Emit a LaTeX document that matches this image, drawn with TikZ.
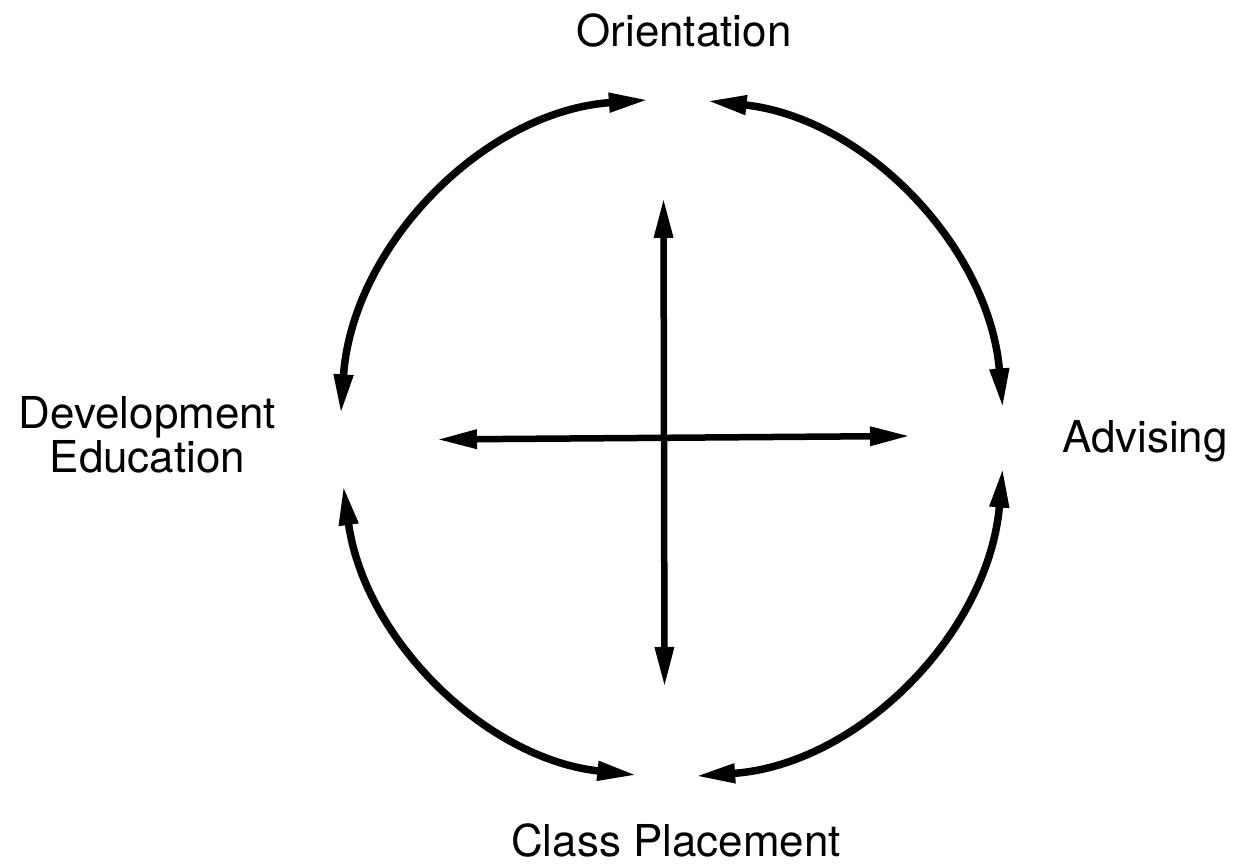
\documentclass[tikz,border=0pt]{standalone}
\usepackage{fontspec}
\setmainfont{TeX Gyre Heros}
\usetikzlibrary{arrows.meta}
\begin{document}
\begin{tikzpicture}[inner sep=0pt,outer sep=0pt,
stage/.style={font=\fontsize{25}{22}\selectfont,align=center},
tip/.style={Triangle[length=0.8cm,width=0.36cm]},
loopline/.style={line width=0.15cm,{Triangle[length=0.8cm,width=0.36cm]}-{Triangle[length=0.8cm,width=0.36cm]}},
crossline/.style={line width=0.13cm,{Triangle[length=0.8cm,width=0.36cm]}-{Triangle[length=0.8cm,width=0.36cm]}}]
\useasboundingbox (0,0) rectangle (24.9,17.36);
\draw (13.68,16.42) node[stage,anchor=base] (orient) {Orientation};
\draw (2.95,8.66) node[stage] (devel) {Development\\Education};
\draw (22.90,8.30) node[stage,anchor=base] (advis) {Advising};
\draw (13.52,0.22) node[stage,anchor=base] (place) {Class Placement};
\coordinate (ctr) at (13.44,8.60);
% the four arcs of the cycle
\draw[loopline] ([shift={(94:6.64cm and 6.78cm)}]ctr) arc[start angle=94,end angle=176,x radius=6.64,y radius=6.78];
\draw[loopline] ([shift={(84:6.64cm and 6.78cm)}]ctr) arc[start angle=84,end angle=5,x radius=6.64,y radius=6.78];
\draw[loopline] ([shift={(-5:6.64cm and 6.78cm)}]ctr) arc[start angle=-5,end angle=-86,x radius=6.64,y radius=6.78];
\draw[loopline] ([shift={(-96:6.64cm and 6.78cm)}]ctr) arc[start angle=-96,end angle=-172,x radius=6.64,y radius=6.78];
% the cross
\coordinate (vtop) at (13.27,13.40);
\coordinate (vbot) at (13.29,3.62);
\coordinate (hleft) at (8.74,8.57);
\coordinate (hright) at (18.20,8.64);
\draw[crossline] (vtop) -- (vbot);
\draw[crossline] (hleft) -- (hright);
\end{tikzpicture}
\end{document}
